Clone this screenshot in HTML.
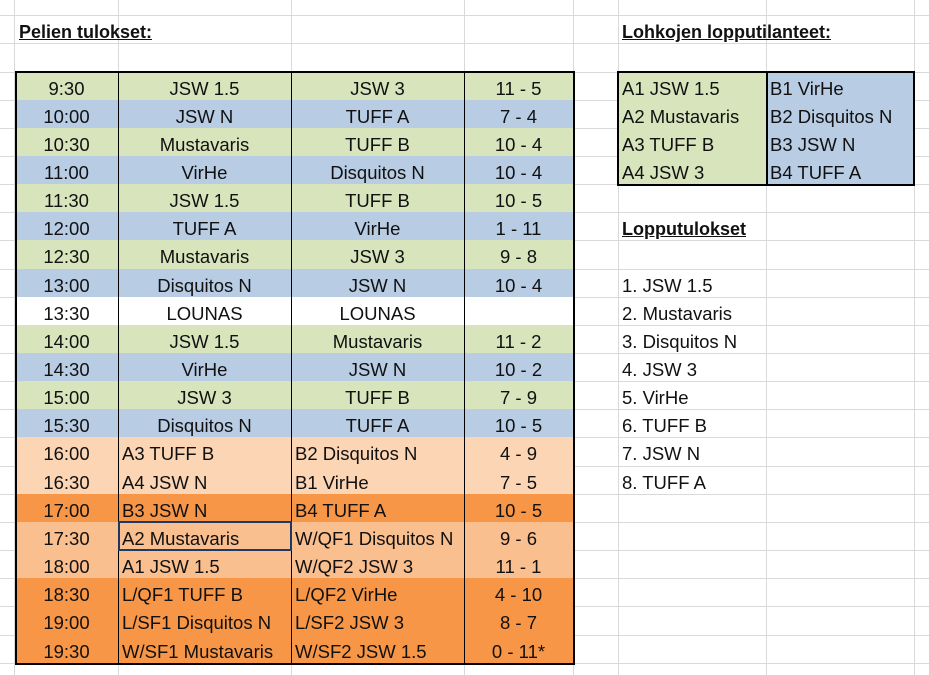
<!DOCTYPE html>
<html><head><meta charset="utf-8">
<style>
body{margin:0;width:929px;height:675px;overflow:hidden;background:#fff;position:relative;font-family:"Liberation Sans",sans-serif;font-size:18.5px;color:#111}
.c{position:absolute;box-sizing:border-box;white-space:nowrap;line-height:28px;padding-top:3px;overflow:hidden}
.g{position:absolute;background:#d9d9d9}
.b{position:absolute;background:#000}
.t{position:absolute;font-weight:bold;text-decoration:underline;font-size:18px}
</style></head><body>
<div id="root"></div>
<script>
const times=["9:30","10:00","10:30","11:00","11:30","12:00","12:30","13:00","13:30","14:00","14:30","15:00","15:30","16:00","16:30","17:00","17:30","18:00","18:30","19:00","19:30"];
const home=["JSW 1.5","JSW N","Mustavaris","VirHe","JSW 1.5","TUFF A","Mustavaris","Disquitos N","LOUNAS","JSW 1.5","VirHe","JSW 3","Disquitos N","A3 TUFF B","A4 JSW N","B3 JSW N","A2 Mustavaris","A1 JSW 1.5","L/QF1 TUFF B","L/SF1 Disquitos N","W/SF1 Mustavaris"];
const away=["JSW 3","TUFF A","TUFF B","Disquitos N","TUFF B","VirHe","JSW 3","JSW N","LOUNAS","Mustavaris","JSW N","TUFF B","TUFF A","B2 Disquitos N","B1 VirHe","B4 TUFF A","W/QF1 Disquitos N","W/QF2 JSW 3","L/QF2 VirHe","L/SF2 JSW 3","W/SF2 JSW 1.5"];
const scores=["11 - 5","7 - 4","10 - 4","10 - 4","10 - 5","1 - 11","9 - 8","10 - 4","","11 - 2","10 - 2","7 - 9","10 - 5","4 - 9","7 - 5","10 - 5","9 - 6","11 - 1","4 - 10","8 - 7","0 - 11*"];
const kinds=["g","b","g","b","g","b","g","b","w","g","b","g","b","l","l","o","m","m","o","o","o"];
const groupA=["A1 JSW 1.5","A2 Mustavaris","A3 TUFF B","A4 JSW 3"];
const groupB=["B1 VirHe","B2 Disquitos N","B3 JSW N","B4 TUFF A"];
const finals=["1. JSW 1.5","2. Mustavaris","3. Disquitos N","4. JSW 3","5. VirHe","6. TUFF B","7. JSW N","8. TUFF A"];
const col={g:"#d8e4bc",b:"#b8cce4",w:"#ffffff",l:"#fcd5b4",o:"#f79646",m:"#fabf8f"};
const R=document.getElementById('root');
const H=28.15, T0=71.5;
const Y=i=>T0+H*i;
function el(cls,x,y,w,h,txt){const d=document.createElement('div');d.className=cls;d.style.left=x+'px';d.style.top=y+'px';if(w!=null)d.style.width=w+'px';if(h!=null)d.style.height=h+'px';if(txt!=null)d.textContent=txt;R.appendChild(d);return d;}
[14,118,291,464,573,618,766,914].forEach(x=>{const g=el('g',x,0,1,675);});
for(let k=-3;k<22;k++){const g=el('g',0,Math.round(Y(k)),929,1);}
let t=el('t',19,Y(-2)+7,null,null,'Pelien tulokset:');
t=el('t',622,Y(-2)+7,null,null,'Lohkojen lopputilanteet:');
t=el('t',622,Y(5)+7,null,null,'Lopputulokset');
const cx=[15,118,291,464,573];
for(let i=0;i<times.length;i++){
 const y=Y(i),bg=col[kinds[i]];
 const knock=i>=13;
 const vals=[times[i],home[i],away[i],scores[i]];
 const names=['match-time','home-team','away-team','match-score'];
 for(let c=0;c<4;c++){
  const d=el('c',cx[c],Math.round(y),cx[c+1]-cx[c],Math.round(Y(i+1))-Math.round(y)+1,vals[c]);
  d.style.background=bg;
  d.style.textAlign=(knock&&(c==1||c==2))?'left':'center';
  if(knock&&(c==1||c==2))d.style.paddingLeft='4px';
  
  
 }
}
const tblTop=Math.round(Y(0))-1,tblBot=Math.round(Y(21));
[[15,tblTop,2,tblBot-tblTop+2],[573,tblTop,2,tblBot-tblTop+2],[15,tblTop,560,2],[15,tblBot,560,2],[118,tblTop,1,tblBot-tblTop],[291,tblTop,1,tblBot-tblTop],[464,tblTop,1,tblBot-tblTop]].forEach(a=>{const b=el('b',...a);});
const s=el('c',118,Math.round(Y(16))-1,174,Math.round(H)+2);s.style.border='2px solid #1f3864';
for(let i=0;i<4;i++){
 let d=el('c',618,Math.round(Y(i)),148,Math.round(Y(i+1))-Math.round(Y(i))+1,groupA[i]);d.style.background='#d8e4bc';d.style.paddingLeft='4px';
 
 d=el('c',766,Math.round(Y(i)),148,Math.round(Y(i+1))-Math.round(Y(i))+1,groupB[i]);d.style.background='#b8cce4';d.style.paddingLeft='4px';
 
}
const gb=Math.round(Y(4));
[[617,tblTop,2,gb-tblTop+2],[913,tblTop,2,gb-tblTop+2],[617,tblTop,298,2],[617,gb,298,2],[766,tblTop,2,gb-tblTop]].forEach(a=>{const b=el('b',...a);});
for(let i=0;i<finals.length;i++){const d=el('c',622,Math.round(Y(7+i)),200,28,finals[i]);}
</script>
</body></html>
